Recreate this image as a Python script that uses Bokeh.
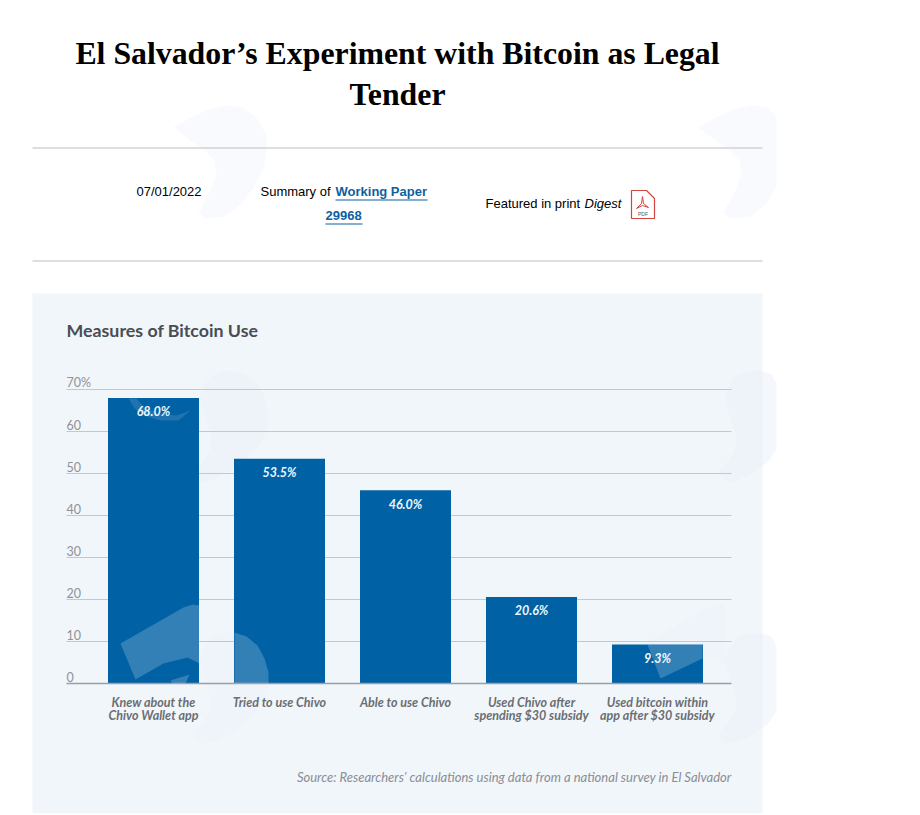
from bokeh.plotting import figure
from bokeh.models import Label, FixedTicker, ColumnDataSource, PolyAnnotation
from bokeh.core.properties import value
from bokeh.embed import file_html
from bokeh.resources import INLINE

categories = ["Knew about the\nChivo Wallet app", "Tried to use Chivo", "Able to use Chivo",
              "Used Chivo after\nspending $30 subsidy", "Used bitcoin within\napp after $30 subsidy"]
values = [68.0, 53.5, 46.0, 20.6, 9.3]
value_labels = ["68.0%", "53.5%", "46.0%", "20.6%", "9.3%"]
y_ticks = [0, 10, 20, 30, 40, 50, 60, 70]
y_tick_labels = ["0", "10", "20", "30", "40", "50", "60", "70%"]

W, H = 920, 815
# pixel scale of the chart: one category = 126 px, one percentage point = 4.2 px
X0, XU, Y0, YU = 153, 126, 683, 4.2
x_left, x_right = (66 - X0) / XU, (731 - X0) / XU

p = figure(width=W, height=H, output_backend="svg", toolbar_location=None,
           x_range=(-X0 / XU, (W - X0) / XU), y_range=((Y0 - H) / YU, Y0 / YU),
           min_border=0, background_fill_alpha=0, outline_line_color=None)


def poly(pts, dx=0, dy=0, **kw):
    kw.setdefault("line_color", None)
    kw.setdefault("level", "underlay")
    p.add_layout(PolyAnnotation(xs=[min(a + dx, 776) for a, _ in pts], ys=[b + dy for _, b in pts],
                                xs_units="canvas", ys_units="canvas", **kw))


def rect(x0, y0, x1, y1, **kw):
    poly([(x0, y0), (x1, y0), (x1, y1), (x0, y1)], **kw)


WING = [(120, 643), (183, 607), (192, 604), (199, 605), (199, 663), (187, 657), (163, 663), (135, 679)]
ROUND = [(199, 660), (203, 648), (210, 638), (222, 633), (234, 632), (246, 636), (257, 645), (264, 658),
         (268, 672), (268, 685), (264, 698), (255, 711), (242, 724), (228, 734), (214, 741), (203, 743),
         (195, 739), (193, 733), (203, 722), (210, 710), (211, 698), (205, 680)]
TOP_SWOOSH = [(173, 127), (190, 117), (208, 109), (225, 105), (242, 107), (256, 117), (265, 132), (267, 148),
              (263, 168), (254, 186), (240, 204), (225, 216), (205, 218), (198, 212), (208, 194), (216, 174),
              (214, 160), (204, 150), (190, 140)]

# faint page watermark on white
for dx in (0, 525):
    poly(TOP_SWOOSH, dx=dx, fill_color="#f9fafe", fill_alpha=1)

rect(32, 293, 762, 813, fill_color="#f1f6fb", fill_alpha=1)

# the panel's own watermark, barely darker than the panel
for dx, dy in ((0, -262), (525, -262), (525, 0)):
    poly(ROUND, dx=dx, dy=dy, fill_color="#ecf2fa", fill_alpha=0.6)
poly(ROUND, fill_color="#ecf2fa", fill_alpha=0.5)
poly(WING, dx=525, fill_color="#ecf2fa", fill_alpha=0.5)

rect(32, 147, 762, 148, fill_color="#bdbdbd", fill_alpha=1)
rect(32, 260, 762, 261, fill_color="#bdbdbd", fill_alpha=1)

# gridlines, limited to the plot width
grid_y = y_ticks[1:]
p.segment(x0=[x_left] * len(grid_y), x1=[x_right] * len(grid_y), y0=grid_y, y1=grid_y,
          line_color="#c3c8d0", line_width=1)

xs = list(range(len(values)))
src = ColumnDataSource(dict(x=xs, top=values, lab=value_labels))
p.vbar(x="x", top="top", bottom=0, width=91 / XU, source=src, fill_color="#0061a5", line_color=None)
p.text(x="x", y="top", text="lab", source=src, text_color="#eef6fc", text_align="center", text_baseline="middle",
       y_offset=14, text_font=value("Lato"), text_font_size="12.5px", text_font_style="bold italic")

# tick labels sit above each gridline at the left end
p.text(x=[x_left] * len(y_ticks), y=y_ticks, text=y_tick_labels, text_color="#8f9296", text_align="left",
       text_baseline="middle", y_offset=-7, text_font=value("Lato"), text_font_size="12.5px")

# translucent logo over the bars
LIGHT = dict(fill_color="#ffffff", fill_alpha=0.2, level="overlay")
poly(WING, **LIGHT)
poly([(170, 680), (189, 674), (185, 683), (172, 683)], **LIGHT)
poly([(234, 632), (246, 636), (257, 645), (264, 658), (268, 672), (268, 683), (234, 683)], **LIGHT)
poly([(647, 644), (702, 644), (702, 658), (660, 678)], **LIGHT)
poly([(128, 398), (134, 408), (146, 416), (160, 420), (178, 420), (190, 410), (176, 415), (158, 413), (144, 407), (136, 398)],
     fill_color="#ffffff", fill_alpha=0.12, level="overlay")

p.xgrid.visible = False
p.ygrid.visible = False

ax = p.xaxis[0]
ax.fixed_location = 0
ax.bounds = (x_left, x_right)
ax.ticker = FixedTicker(ticks=xs)
ax.major_label_overrides = {i: c for i, c in enumerate(categories)}
ax.major_tick_line_color = None
ax.minor_tick_line_color = None
ax.axis_line_color = "#9a9fa6"
ax.axis_line_width = 1.5
ax.major_label_text_font = "Lato"
ax.major_label_text_font_size = "12.5px"
ax.major_label_text_font_style = "bold italic"
ax.major_label_text_color = "#6b6e73"
ax.major_label_text_line_height = 0.9
ax.major_label_standoff = 5

p.yaxis.visible = False


def lab(t, px, py, **kw):
    kw.setdefault("text_baseline", "middle")
    p.add_layout(Label(x=px, y=py, x_units="canvas", y_units="canvas", text=t, **kw))


lab("El Salvador\u2019s Experiment with Bitcoin as Legal", 397, 53, text_align="center",
    text_font="Liberation Serif", text_font_size="31.8px", text_font_style="bold", text_color="#000000")
lab("Tender", 397, 94, text_align="center",
    text_font="Liberation Serif", text_font_size="31.8px", text_font_style="bold", text_color="#000000")
lab("Measures of Bitcoin Use", 66, 329, text_font="Lato", text_font_size="17.8px",
    text_font_style="bold", text_color="#4a4d52")
lab("Source: Researchers\u2019 calculations using data from a national survey in El Salvador", 731, 776,
    text_align="right", text_font="Lato", text_font_size="13px", text_font_style="italic", text_color="#8a8d92")
for t, x, y, st, col in [("07/01/2022", 136, 191, "normal", "#000"),
                         ("Summary of", 260, 191, "normal", "#000"),
                         ("Working Paper", 335, 191, "bold", "#0e5f9f"),
                         ("29968", 325, 215, "bold", "#0e5f9f"),
                         ("Featured in print", 485, 203, "normal", "#000"),
                         ("Digest", 584, 203, "italic", "#000")]:
    lab(t, x, y, text_font="Liberation Sans", text_font_size="13px", text_font_style=st, text_color=col)

rect(335, 199, 427, 200, fill_color="#0e5f9f", fill_alpha=1)
rect(325, 223, 362, 224, fill_color="#0e5f9f", fill_alpha=1)

# PDF icon
poly([(631, 190), (646, 190), (654, 198), (654, 218), (631, 218), (631, 190)],
     fill_alpha=0, line_color="#d0453f", line_alpha=1, line_width=1.2, level="overlay")
poly([(642, 196), (643, 203), (648, 207), (642, 205), (636, 208), (641, 203), (642, 196)],
     fill_alpha=0, line_color="#d0453f", line_alpha=1, line_width=1, level="overlay")
lab("PDF", 642.5, 213, text_align="center", text_font="Liberation Sans", text_font_size="5px", text_color="#555")

# stray red dot at the right of the page
rect(916, 727, 919, 730, fill_color="#e0201c", fill_alpha=1)

open("out.html", "w").write(file_html(p, INLINE))
